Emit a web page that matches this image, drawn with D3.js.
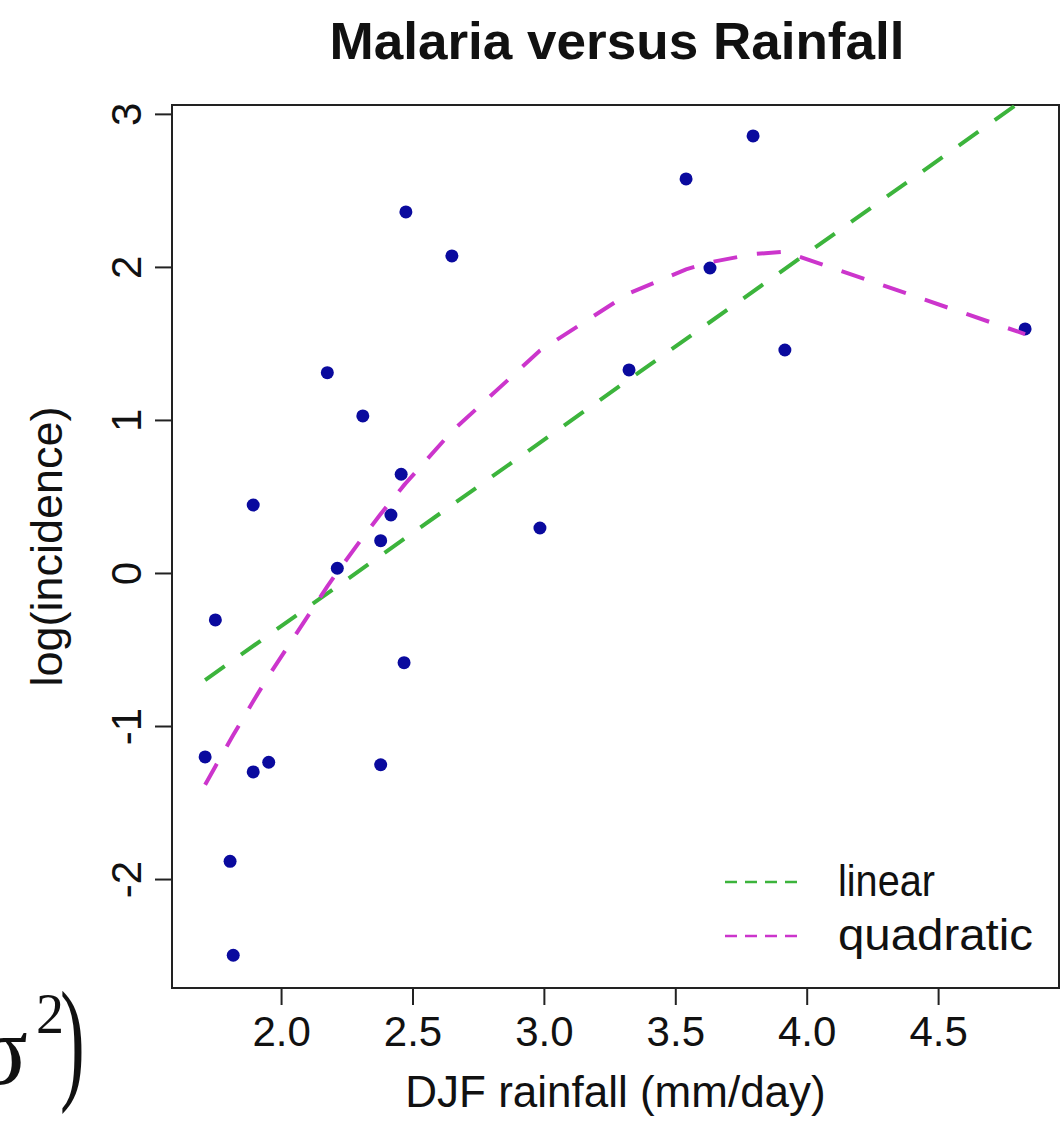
<!DOCTYPE html>
<html><head><meta charset="utf-8">
<script src="https://cdn.jsdelivr.net/npm/d3@7"></script>
<style>
html,body{margin:0;padding:0;background:#fff;}
svg{display:block;}
text{font-family:"Liberation Sans",Arial,sans-serif;fill:#111;}
</style></head>
<body>
<script>
// ---- data ----
const rainfall = [1.711,1.750,1.894,1.806,1.818,1.894,1.953,2.176,2.214,2.311,2.379,2.379,2.418,2.457,2.468,2.475,2.650,2.985,3.324,3.541,3.632,3.796,3.917,4.831];
const logIncidence = [-1.202,-0.307,0.444,-1.884,-2.498,-1.300,-1.237,1.309,0.031,1.026,0.211,-1.253,0.379,0.645,-0.586,2.359,2.072,0.294,1.327,2.575,1.993,2.856,1.457,1.595];
// linear fit, read at the two ends of the x range
const linearX = [1.711, 4.831];
const linearY = [-0.70, 3.10];
// quadratic fit values at the sorted rainfall values
const quadX = [1.711,1.750,1.806,1.818,1.894,1.953,2.176,2.214,2.311,2.379,2.418,2.457,2.468,2.475,2.650,2.985,3.324,3.541,3.632,3.796,3.917,4.831];
const quadY = [-1.384,-1.264,-1.095,-1.059,-0.838,-0.672,-0.087,0.005,0.233,0.385,0.469,0.551,0.574,0.588,0.925,1.453,1.828,1.984,2.030,2.084,2.099,1.561];
const xTicks = [2.0,2.5,3.0,3.5,4.0,4.5];
const yTicks = [-2,-1,0,1,2,3];
const legendLabels = ["linear","quadratic"];
const title = "Malaria versus Rainfall";
const xLabel = "DJF rainfall (mm/day)";
const yLabel = "log(incidence)";

const W = 1064, H = 1141;
const L = 172, R = 1059, T = 105, B = 988;
const green = "#3cb43c", magenta = "#cc35cc", dotCol = "#0a0a9e";

const svg = d3.select("body").append("svg").attr("width", W).attr("height", H);
const x = d3.scaleLinear().domain([1.585, 4.96]).range([L, R]);
const y = d3.scaleLinear().domain([-2.712, 3.058]).range([B, T]);

svg.append("clipPath").attr("id","clip").append("rect")
  .attr("x", L).attr("y", T).attr("width", R - L).attr("height", B - T);

// title
svg.append("text").attr("x", 617).attr("y", 59).attr("text-anchor","middle")
  .attr("font-size", 52).attr("font-weight","bold")
  .attr("textLength", 575).attr("lengthAdjust","spacingAndGlyphs").text(title);

// axes
const xAxis = d3.axisBottom(x).tickValues(xTicks).tickFormat(d3.format(".1f")).tickSize(17).tickPadding(10);
const gx = svg.append("g").attr("transform", `translate(0,${B})`).call(xAxis);
gx.select(".domain").remove();
gx.selectAll(".tick line").attr("stroke","#222").attr("stroke-width",2);
gx.selectAll(".tick text").attr("font-size", 42).attr("font-family","Liberation Sans, Arial, sans-serif")
  .attr("fill","#222").attr("dy", null).attr("y", 58);

const yAxis = d3.axisLeft(y).tickValues(yTicks).tickFormat(d => String(d)).tickSize(17);
const gy = svg.append("g").attr("transform", `translate(${L},0)`).call(yAxis);
gy.select(".domain").remove();
gy.selectAll(".tick line").attr("stroke","#222").attr("stroke-width",2);
gy.selectAll(".tick text").attr("font-size", 42).attr("font-family","Liberation Sans, Arial, sans-serif")
  .attr("fill","#222").attr("x", null).attr("dy", null).attr("text-anchor","middle")
  .attr("transform","translate(-31,0) rotate(-90)");

// frame
svg.append("rect").attr("x", L).attr("y", T).attr("width", R - L).attr("height", B - T)
  .attr("fill","none").attr("stroke","#222").attr("stroke-width",2);

// axis titles
svg.append("text").attr("x", (L + R) / 2).attr("y", 1107).attr("text-anchor","middle")
  .attr("font-size", 44).text(xLabel);
svg.append("text").attr("transform", `translate(62,${(T + B) / 2}) rotate(-90)`).attr("text-anchor","middle")
  .attr("font-size", 45).text(yLabel);

// points
svg.append("g").selectAll("circle").data(rainfall.map((v,i)=>[v, logIncidence[i]])).join("circle")
  .attr("cx", d => x(d[0])).attr("cy", d => y(d[1])).attr("r", 6.5).attr("fill", dotCol);

// fit lines
const line = d3.line().x(d => x(d[0])).y(d => y(d[1]));
const plotArea = svg.append("g").attr("clip-path","url(#clip)");
plotArea.append("path").datum(linearX.map((v,i)=>[v, linearY[i]]))
  .attr("d", line).attr("fill","none").attr("stroke", green).attr("stroke-width", 4)
  .attr("stroke-dasharray","24,20");
plotArea.append("path").datum(quadX.map((v,i)=>[v, quadY[i]]))
  .attr("d", line).attr("fill","none").attr("stroke", magenta).attr("stroke-width", 4)
  .attr("stroke-dasharray","24,20");

// legend
const legCols = [green, magenta];
const legY = [882, 936];
legendLabels.forEach((lab, i) => {
  svg.append("line").attr("x1", 725).attr("x2", 797).attr("y1", legY[i]).attr("y2", legY[i])
    .attr("stroke", legCols[i]).attr("stroke-width", 2.5).attr("stroke-dasharray","12,8");
  svg.append("text").attr("x", 838).attr("y", legY[i] + 14).attr("font-size", 45)
    .attr("textLength", i === 0 ? 97 : 195).attr("lengthAdjust","spacingAndGlyphs").text(lab);
});

// fragment of a formula at the lower left edge
const frag = svg.append("g");
frag.append("text").attr("x", -26).attr("y", 1084).attr("font-size", 100).style("font-family","Liberation Serif, serif").attr("fill","#222").text("σ");
frag.append("text").attr("x", 36).attr("y", 1033).attr("font-size", 56).style("font-family","Liberation Serif, serif").attr("fill","#222").text("2");
frag.append("text").attr("transform","translate(60,1085) scale(0.55,1)").attr("font-size", 135).style("font-family","Liberation Serif, serif").attr("fill","#222").text(")");
</script>
</body></html>
